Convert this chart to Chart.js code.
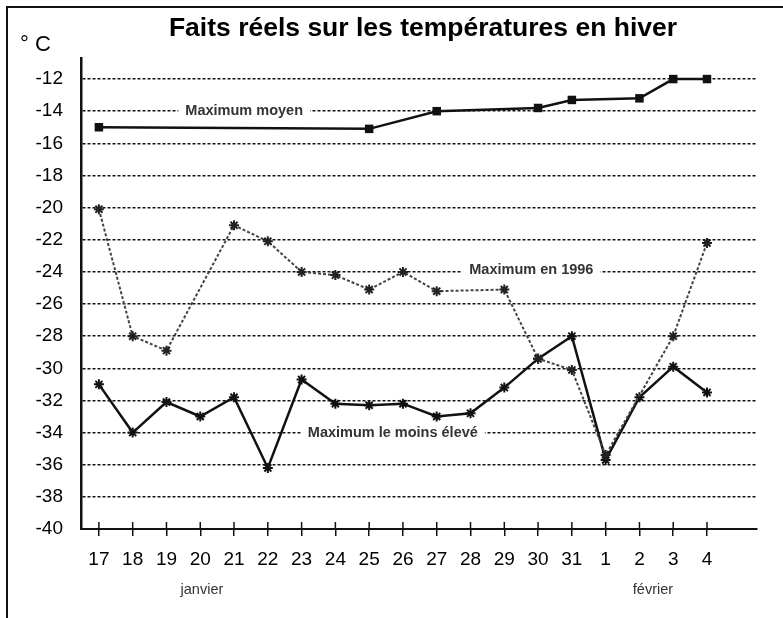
<!DOCTYPE html>
<html>
<head>
<meta charset="utf-8">
<script src="https://cdn.jsdelivr.net/npm/chart.js@4.4.1/dist/chart.umd.min.js"></script>
<style>
  html, body { margin: 0; padding: 0; background: #fff; }
  #wrap { position: relative; width: 783px; height: 618px; }
</style>
</head>
<body>
<div id="wrap"><canvas id="chart"></canvas></div>
<script>
const days = ['17', '18', '19', '20', '21', '22', '23', '24', '25', '26', '27', '28', '29', '30', '31', '1', '2', '3', '4'];
const maxMoyen = [-15, null, null, null, null, null, null, null, -15.1, null, -14, null, null, -13.8, -13.3, null, -13.2, -12, -12];
const max1996 = [-20.1, -28, -28.9, null, -21.1, -22.1, -24, -24.2, -25.1, -24, -25.2, null, -25.1, -29.4, -30.1, -35.4, null, -28, -22.2];
const maxMoinsEleve = [-31, -34, -32.1, -33, -31.8, -36.2, -30.7, -32.2, -32.3, -32.2, -33, -32.8, -31.2, -29.4, -28, -35.7, -31.8, -29.9, -31.5];
const yTicks = [-40, -38, -36, -34, -32, -30, -28, -26, -24, -22, -20, -18, -16, -14, -12];
const monthNames = ['janvier', 'février'];
const seriesNames = ['Maximum moyen', 'Maximum en 1996', 'Maximum le moins élevé'];
const chartTitle = 'Faits réels sur les températures en hiver';
const unitLabel = '° C';

const SANS = "'Liberation Sans', Arial, sans-serif";

const toPoints = arr => arr.map((v, i) => ({ x: i, y: v }));

const decor = {
    id: 'decor',
    beforeDraw(chart) {
        const { ctx, width, height } = chart;
        ctx.save();
        ctx.fillStyle = '#fff';
        ctx.fillRect(0, 0, width, height);
        // frame, cut off at right and bottom like the scan
        ctx.strokeStyle = '#111';
        ctx.lineWidth = 2;
        ctx.beginPath();
        ctx.moveTo(7, height);
        ctx.lineTo(7, 7);
        ctx.lineTo(width, 7);
        ctx.stroke();
        ctx.restore();
    },
    afterDraw(chart) {
        const { ctx, chartArea, scales: { x, y } } = chart;
        ctx.save();

        // upper half of the x tick marks (they cross the axis)
        ctx.strokeStyle = '#111';
        ctx.lineWidth = 1.5;
        x.ticks.forEach(t => {
            const px = x.getPixelForValue(t.value);
            ctx.beginPath();
            ctx.moveTo(px, chartArea.bottom);
            ctx.lineTo(px, chartArea.bottom - 7);
            ctx.stroke();
        });

        // title and unit
        ctx.fillStyle = '#000';
        ctx.textBaseline = 'middle';
        ctx.textAlign = 'center';
        ctx.font = 'bold 26.5px ' + SANS;
        ctx.fillText(chartTitle, (chartArea.left + chartArea.right) / 2 + 4, 29);
        ctx.textAlign = 'left';
        ctx.font = '22px ' + SANS;
        ctx.fillText(unitLabel, 20, 45);

        // series names sitting on the grid lines
        const notePos = [[4.3, -14], [12.8, -23.9], [8.7, -34]];
        ctx.font = 'bold 14.5px ' + SANS;
        ctx.textAlign = 'center';
        seriesNames.forEach((name, i) => {
            const px = x.getPixelForValue(notePos[i][0]);
            const py = y.getPixelForValue(notePos[i][1]);
            const w = ctx.measureText(name).width;
            ctx.fillStyle = '#fff';
            ctx.fillRect(px - w / 2 - 7, py - 7, w + 14, 14);
            ctx.fillStyle = '#333';
            ctx.fillText(name, px, py);
        });

        // month names under the day labels
        const monthPos = [3.05, 16.4];
        ctx.font = '14.5px ' + SANS;
        ctx.fillStyle = '#333';
        monthNames.forEach((m, i) => {
            ctx.fillText(m, x.getPixelForValue(monthPos[i]), chartArea.bottom + 61);
        });
        ctx.restore();
    }
};

new Chart(document.getElementById('chart'), {
    type: 'line',
    data: {
        datasets: [
            {
                label: seriesNames[0],
                data: toPoints(maxMoyen),
                borderColor: '#111',
                backgroundColor: '#111',
                borderWidth: 2.5,
                pointStyle: 'rect',
                pointRadius: 6,
                pointBorderWidth: 0,
                spanGaps: true
            },
            {
                label: seriesNames[1],
                data: toPoints(max1996),
                borderColor: '#444',
                backgroundColor: '#fff',
                borderWidth: 2,
                borderDash: [3, 2],
                pointStyle: 'star',
                pointRadius: 5,
                pointBorderColor: '#222',
                pointBorderWidth: 2,
                spanGaps: true
            },
            {
                label: seriesNames[2],
                data: toPoints(maxMoinsEleve),
                borderColor: '#111',
                backgroundColor: '#111',
                borderWidth: 2.5,
                pointStyle: 'star',
                pointRadius: 5,
                pointBorderColor: '#111',
                pointBorderWidth: 2,
                spanGaps: true
            }
        ]
    },
    options: {
        responsive: true,
        maintainAspectRatio: false,
        animation: false,
        layout: { padding: { top: 58, right: 26, left: 0, bottom: 0 } },
        plugins: {
            legend: { display: false },
            tooltip: { enabled: false }
        },
        scales: {
            x: {
                type: 'linear',
                min: -0.53,
                max: 19.48,
                afterBuildTicks: scale => { scale.ticks = days.map((_, i) => ({ value: i })); },
                afterFit: scale => { scale.height = 89; },
                ticks: {
                    autoSkip: false,
                    maxRotation: 0,
                    padding: 12,
                    color: '#000',
                    font: { family: SANS, size: 19 },
                    callback: v => days[v]
                },
                grid: {
                    drawOnChartArea: false,
                    drawTicks: true,
                    tickLength: 7,
                    color: '#111',
                    lineWidth: 1.5
                },
                border: { display: true, color: '#111', width: 2 }
            },
            y: {
                min: -40,
                max: -10.69,
                afterBuildTicks: scale => { scale.ticks = yTicks.map(v => ({ value: v })); },
                afterFit: scale => { scale.width = 81; },
                ticks: {
                    padding: 18,
                    color: '#000',
                    font: { family: SANS, size: 19 }
                },
                grid: {
                    drawTicks: false,
                    color: ctx => (ctx.tick && ctx.tick.value === -40 ? 'rgba(0,0,0,0)' : '#111'),
                    lineWidth: 1.5
                },
                border: { display: true, color: '#111', width: 2.5, dash: [3, 2] }
            }
        }
    },
    plugins: [decor]
});
</script>
</body>
</html>
